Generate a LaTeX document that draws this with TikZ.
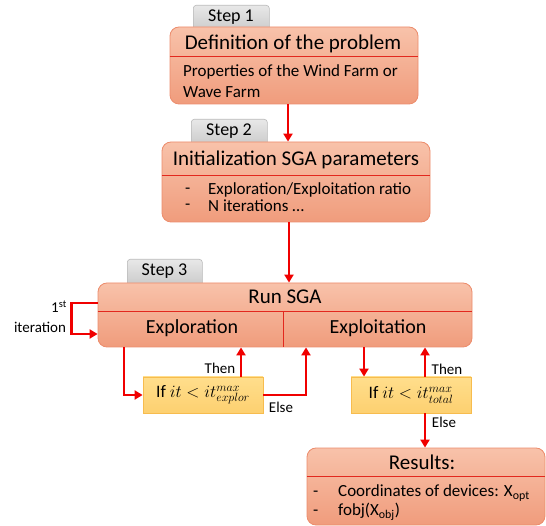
\documentclass[tikz,border=0pt]{standalone}
\usepackage{fontspec}
\setmainfont{Carlito}
\usetikzlibrary{arrows.meta,calc}
\definecolor{boxtop}{RGB}{248,194,170}
\definecolor{boxbot}{RGB}{240,156,124}
\definecolor{boxline}{RGB}{236,140,108}
\definecolor{divred}{RGB}{226,40,30}
\definecolor{tabtop}{RGB}{232,232,232}
\definecolor{tabbot}{RGB}{200,200,200}
\definecolor{tabline}{RGB}{185,185,185}
\definecolor{condtop}{RGB}{255,222,140}
\definecolor{condbot}{RGB}{253,208,112}
\definecolor{condline}{RGB}{247,188,78}
\definecolor{arrred}{RGB}{240,0,0}
\tikzset{
  box/.style={draw=boxline, line width=0.8pt, rounded corners=9pt, top color=boxtop, bottom color=boxbot, inner sep=0pt},
  tabbox/.style={draw=tabline, line width=0.6pt, rounded corners=3pt, top color=tabtop, bottom color=tabbot, inner sep=0pt},
  tabtext/.style={font=\fontsize{18}{20}\selectfont, inner sep=0pt},
  cond/.style={draw=condline, line width=0.8pt, top color=condtop, bottom color=condbot, inner sep=0pt, font=\fontsize{17.5}{19}\selectfont},
  divider/.style={draw=divred, line width=1pt},
  arr/.style={draw=arrred, line width=2.6pt, -{Triangle[length=8pt,width=9pt]}},
  title/.style={font=\fontsize{21}{24}\selectfont, inner sep=0pt},
  sub/.style={font=\fontsize{20}{23}\selectfont, inner sep=0pt},
  body/.style={font=\fontsize{17}{19}\selectfont, inner sep=0pt},
  lbl/.style={font=\fontsize{15}{17}\selectfont, inner sep=0pt},
}
\begin{document}
\begin{tikzpicture}[x=1pt,y=-1pt]
\useasboundingbox (0,0) rectangle (546,526);
% tabs
\node[tabbox, minimum width=76pt, minimum height=28pt, anchor=north west] (tab1) at (193,5) {};
\node[tabtext] (tab1t) at (231,17) {Step 1};
\node[tabbox, minimum width=76pt, minimum height=28pt, anchor=north west] (tab2) at (191,119) {};
\node[tabtext] (tab2t) at (229,131) {Step 2};
\node[tabbox, minimum width=75pt, minimum height=28pt, anchor=north west] (tab3) at (127,259) {};
\node[tabtext] (tab3t) at (164.5,271) {Step 3};
% box 1
\node[box, minimum width=248pt, minimum height=77pt] (b1) at (294,65.5) {};
\draw[divider] (b1.west |- 0,57) -- (b1.east |- 0,57);
\node[title] (b1t) at (293,44) {Definition of the problem};
\node[body, anchor=west] (b1l1) at (183,72) {Properties of the Wind Farm or};
\node[body, anchor=west] (b1l2) at (183,92) {Wave Farm};
% box 2
\node[box, minimum width=268pt, minimum height=80pt] (b2) at (296,182) {};
\draw[divider] (b2.west |- 0,176) -- (b2.east |- 0,176);
\node[title] (b2t) at (296,160) {Initialization SGA parameters};
\node[body, anchor=west] (b2d1) at (185,191) {-};
\node[body, anchor=west] (b2l1) at (208,190) {Exploration/Exploitation ratio};
\node[body, anchor=west] (b2d2) at (185,207) {-};
\node[body, anchor=west] (b2l2) at (208,206) {N iterations \dots};
% box 3
\node[box, minimum width=374pt, minimum height=64pt] (b3) at (285,315) {};
\draw[divider] (b3.west |- 0,312) -- (b3.east |- 0,312);
\draw[divider] (283,312) -- (b3.south -| 283,0);
\node[title] (b3t) at (285,297) {Run SGA};
\node[sub] (b3a) at (192,328) {Exploration};
\node[sub] (b3b) at (378,328) {Exploitation};
% condition boxes
\node[cond, minimum width=120pt, minimum height=36pt] (if1) at (203,395) {If $it<it^{max}_{explor}$};
\node[cond, minimum width=120pt, minimum height=36pt] (if2) at (411,395) {If $it<it^{max}_{total}$};
% results
\node[box, minimum width=238pt, minimum height=77pt] (res) at (426,486.5) {};
\draw[divider] (res.west |- 0,476) -- (res.east |- 0,476);
\node[title] (rest) at (422,462) {Results:};
\node[body, anchor=west] (resd1) at (313,494) {-};
\node[body, anchor=west] (resl1) at (338,493) {Coordinates of devices: X\textsubscript{opt}};
\node[body, anchor=west] (resd2) at (313,513) {-};
\node[body, anchor=west] (resl2) at (338,512) {fobj(X\textsubscript{obj})};
% coordinates for connector x positions
\coordinate (x1) at (288,0);
\coordinate (x2) at (289,0);
\coordinate (xe) at (124,0);
\coordinate (xt1) at (241,0);
\coordinate (xe1) at (306,0);
\coordinate (xd) at (364,0);
\coordinate (xt2) at (425,0);
% connectors
\draw[arr] (b1.south -| x1) -- (b2.north -| x1);
\draw[arr] (b2.south -| x2) -- (b3.north -| x2);
\draw[arr] ([yshift=12pt]b3.west) -- ++(-26,0) |- ([yshift=-19pt]b3.west);
\draw[arr] (b3.south -| xe) |- (if1.west);
\draw[arr] (if1.north -| xt1) -- (b3.south -| xt1);
\draw[arr] (if1.east) -| (b3.south -| xe1);
\draw[arr] (b3.south -| xd) -- (if2.north -| xd);
\draw[arr] (if2.north -| xt2) -- (b3.south -| xt2);
\draw[arr] (if2.south -| xt2) -- (res.north -| xt2);
% labels
\node[lbl, anchor=east] (l1st) at (67,307) {1\textsuperscript{st}};
\node[lbl] (liter) at (40,327) {iteration};
\node[lbl] (then1) at (220,368) {Then};
\node[lbl] (else1) at (281,407) {Else};
\node[lbl] (then2) at (447,369) {Then};
\node[lbl] (else2) at (444,422) {Else};
\end{tikzpicture}
\end{document}
